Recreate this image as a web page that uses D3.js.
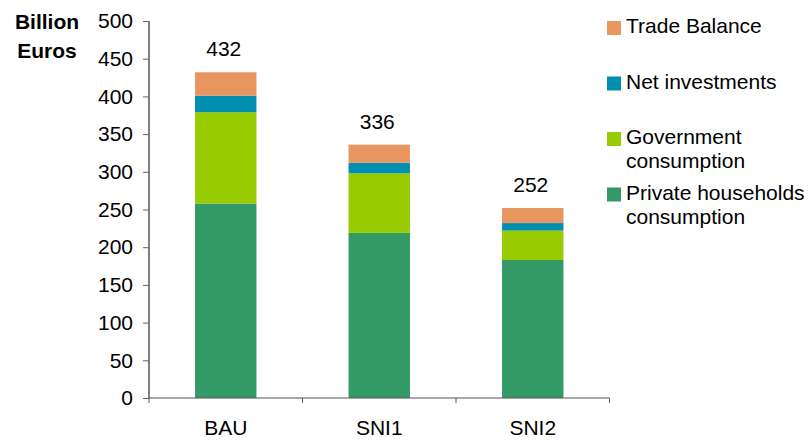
<!DOCTYPE html>
<html>
<head>
<meta charset="utf-8">
<script src="https://cdn.jsdelivr.net/npm/d3@7"></script>
<style>
  body { margin: 0; background: #fff; }
  svg { font-family: "Liberation Sans", Arial, sans-serif; }
</style>
</head>
<body>
<svg width="811" height="440"></svg>
<script>
// scenarios and stacked components (billion euros)
var scenarios = ["BAU", "SNI1", "SNI2"];
var privateHouseholds = [258, 219, 183];
var government = [121, 79, 39];
var netInvestments = [22, 14, 10];
var tradeBalance = [31, 24, 20];
var totals = [432, 336, 252];
var yTicks = [0, 50, 100, 150, 200, 250, 300, 350, 400, 450, 500];

var keys = ["private", "government", "net", "trade"];
var legendLabels = {
  trade: ["Trade Balance"],
  net: ["Net investments"],
  government: ["Government", "consumption"],
  "private": ["Private households", "consumption"]
};
var colors = { "private": "#339966", government: "#99cc00", net: "#008fb0", trade: "#e8955f" };

var data = scenarios.map(function (s, i) {
  return { name: s, "private": privateHouseholds[i], government: government[i],
           net: netInvestments[i], trade: tradeBalance[i], total: totals[i] };
});

var svg = d3.select("svg");
var plotLeft = 149, plotRight = 609.5, plotTop = 21, plotBottom = 398;

var x = d3.scaleBand().domain(scenarios).range([plotLeft, plotRight]).paddingInner(0.6).paddingOuter(0.3);
var y = d3.scaleLinear().domain([0, 500]).range([plotBottom, plotTop]);

var stack = d3.stack().keys(keys)(data);

svg.append("g").selectAll("g")
  .data(stack)
  .enter().append("g")
  .attr("fill", function (d) { return colors[d.key]; })
  .selectAll("rect")
  .data(function (d) { return d; })
  .enter().append("rect")
  .attr("x", function (d) { return x(d.data.name); })
  .attr("y", function (d) { return y(d[1]); })
  .attr("height", function (d) { return y(d[0]) - y(d[1]); })
  .attr("width", x.bandwidth());

// y axis
var yAxis = svg.append("g")
  .attr("transform", "translate(" + plotLeft + ",0)")
  .call(d3.axisLeft(y).tickValues(yTicks).tickSize(6).tickPadding(10));
yAxis.select(".domain").attr("stroke", "#000").attr("d", "M0," + plotTop + "V" + plotBottom);
yAxis.selectAll(".tick line").attr("stroke", "#666");
yAxis.selectAll("text").attr("font-size", 21).attr("fill", "#000").attr("font-family", "Liberation Sans, Arial, sans-serif");

// x axis with ticks between categories
var xBounds = [plotLeft].concat(scenarios.map(function (s) { return x(s) + x.bandwidth() + x.step() * x.paddingInner() / 2; }));
svg.append("line")
  .attr("x1", plotLeft).attr("x2", plotRight)
  .attr("y1", plotBottom).attr("y2", plotBottom)
  .attr("stroke", "#555").attr("stroke-width", 1.2);
svg.append("g").selectAll("line")
  .data(xBounds)
  .enter().append("line")
  .attr("x1", function (d) { return d; }).attr("x2", function (d) { return d; })
  .attr("y1", plotBottom).attr("y2", plotBottom + 5)
  .attr("stroke", "#555");
svg.append("g").selectAll("text")
  .data(scenarios)
  .enter().append("text")
  .attr("x", function (d) { return x(d) + x.bandwidth() / 2; })
  .attr("y", 435)
  .attr("text-anchor", "middle")
  .attr("font-size", 21)
  .text(function (d) { return d; });

// totals above bars
svg.append("g").selectAll("text")
  .data(data)
  .enter().append("text")
  .attr("x", function (d) { return x(d.name) + x.bandwidth() / 2 - 2; })
  .attr("y", function (d) { return y(d.total) - 16; })
  .attr("text-anchor", "middle")
  .attr("font-size", 21)
  .text(function (d) { return d.total; });

// unit label
svg.append("text")
  .attr("x", 47).attr("y", 29)
  .attr("text-anchor", "middle")
  .attr("font-size", 21).attr("font-weight", "bold")
  .selectAll("tspan")
  .data(["Billion", "Euros"])
  .enter().append("tspan")
  .attr("x", 47)
  .attr("dy", function (d, i) { return i ? 29 : 0; })
  .text(function (d) { return d; });

// legend
var legend = svg.append("g").selectAll("g")
  .data(keys.slice().reverse())
  .enter().append("g")
  .attr("transform", function (d, i) { return "translate(607," + (21 + i * 55.5) + ")"; });
legend.append("rect")
  .attr("width", 14).attr("height", 14)
  .attr("fill", function (d) { return colors[d]; });
legend.append("text")
  .attr("font-size", 21)
  .attr("y", 12)
  .selectAll("tspan")
  .data(function (d) { return legendLabels[d]; })
  .enter().append("tspan")
  .attr("x", 19)
  .attr("dy", function (d, i) { return i ? 24 : 0; })
  .text(function (d) { return d; });
</script>
</body>
</html>
